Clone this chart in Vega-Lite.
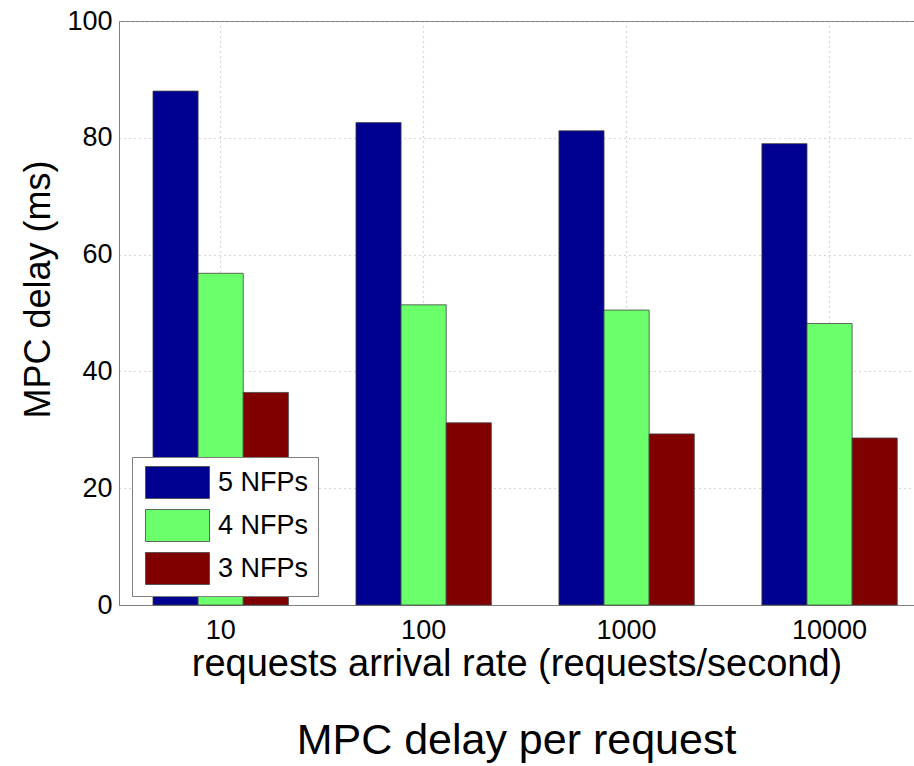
{
  "$schema": "https://vega.github.io/schema/vega-lite/v6.json",
  "autosize": {"type": "none"},
  "padding": {"left": 119, "top": 21, "right": 0, "bottom": 161},
  "width": 795,
  "height": 584,
  "background": "white",
  "title": {
    "text": "MPC delay per request",
    "orient": "bottom",
    "anchor": "middle",
    "font": "Liberation Sans",
    "fontSize": 43,
    "fontWeight": "normal",
    "color": "black",
    "offset": 37
  },
  "data": {
    "values": [
      {"rate": "10", "series": "5 NFPs", "delay": 88.0},
      {"rate": "10", "series": "4 NFPs", "delay": 56.8},
      {"rate": "10", "series": "3 NFPs", "delay": 36.4},
      {"rate": "100", "series": "5 NFPs", "delay": 82.6},
      {"rate": "100", "series": "4 NFPs", "delay": 51.4},
      {"rate": "100", "series": "3 NFPs", "delay": 31.2},
      {"rate": "1000", "series": "5 NFPs", "delay": 81.2},
      {"rate": "1000", "series": "4 NFPs", "delay": 50.5},
      {"rate": "1000", "series": "3 NFPs", "delay": 29.3},
      {"rate": "10000", "series": "5 NFPs", "delay": 79.0},
      {"rate": "10000", "series": "4 NFPs", "delay": 48.2},
      {"rate": "10000", "series": "3 NFPs", "delay": 28.6}
    ]
  },
  "config": {
    "font": "Liberation Sans",
    "view": {"stroke": "#7f7f7f", "strokeWidth": 1}
  },
  "mark": {"type": "bar", "stroke": "#444444", "strokeWidth": 0.8},
  "encoding": {
    "x": {
      "field": "rate",
      "type": "ordinal",
      "sort": ["10", "100", "1000", "10000"],
      "scale": {"paddingInner": 0.333, "paddingOuter": 0.125, "align": 0.67},
      "axis": {
        "title": "requests arrival rate (requests/second)",
        "titleFontSize": 38,
        "titleFontWeight": "normal",
        "titleColor": "black",
        "titlePadding": 2,
        "labelAngle": 0,
        "labelFontSize": 27,
        "labelColor": "black",
        "labelPadding": 12,
        "domainColor": "#7f7f7f",
        "ticks": false,
        "grid": true,
        "gridColor": "#b0b0b0",
        "gridDash": [1, 4],
        "gridWidth": 1.2
      }
    },
    "xOffset": {
      "field": "series",
      "type": "nominal",
      "sort": ["5 NFPs", "4 NFPs", "3 NFPs"],
      "scale": {"paddingInner": 0, "paddingOuter": 0}
    },
    "y": {
      "field": "delay",
      "type": "quantitative",
      "scale": {"domain": [0, 100], "nice": false},
      "axis": {
        "title": "MPC delay (ms)",
        "titleFontSize": 36,
        "titleFontWeight": "normal",
        "titleColor": "black",
        "titlePadding": 9,
        "titleY": 268,
        "values": [0, 20, 40, 60, 80, 100],
        "labelFontSize": 27,
        "labelColor": "black",
        "labelPadding": 7,
        "domainColor": "#7f7f7f",
        "ticks": false,
        "grid": true,
        "gridColor": "#b0b0b0",
        "gridDash": [1, 4],
        "gridWidth": 1.2
      }
    },
    "color": {
      "field": "series",
      "type": "nominal",
      "sort": ["5 NFPs", "4 NFPs", "3 NFPs"],
      "scale": {"domain": ["5 NFPs", "4 NFPs", "3 NFPs"], "range": ["#000090", "#6bff6b", "#800000"]},
      "legend": {
        "title": null,
        "orient": "none",
        "legendX": 13,
        "legendY": 436,
        "fillColor": "white",
        "strokeColor": "#7f7f7f",
        "padding": 9,
        "symbolOffset": 20,
        "symbolType": "M-2,-1H2V1H-2Z",
        "symbolSize": 1024,
        "symbolStrokeColor": "#444444",
        "symbolStrokeWidth": 0.8,
        "symbolOpacity": 1,
        "labelFontSize": 27,
        "labelColor": "black",
        "labelOffset": 24,
        "labelExpr": "datum.label + '        '",
        "rowPadding": 6
      }
    }
  }
}
